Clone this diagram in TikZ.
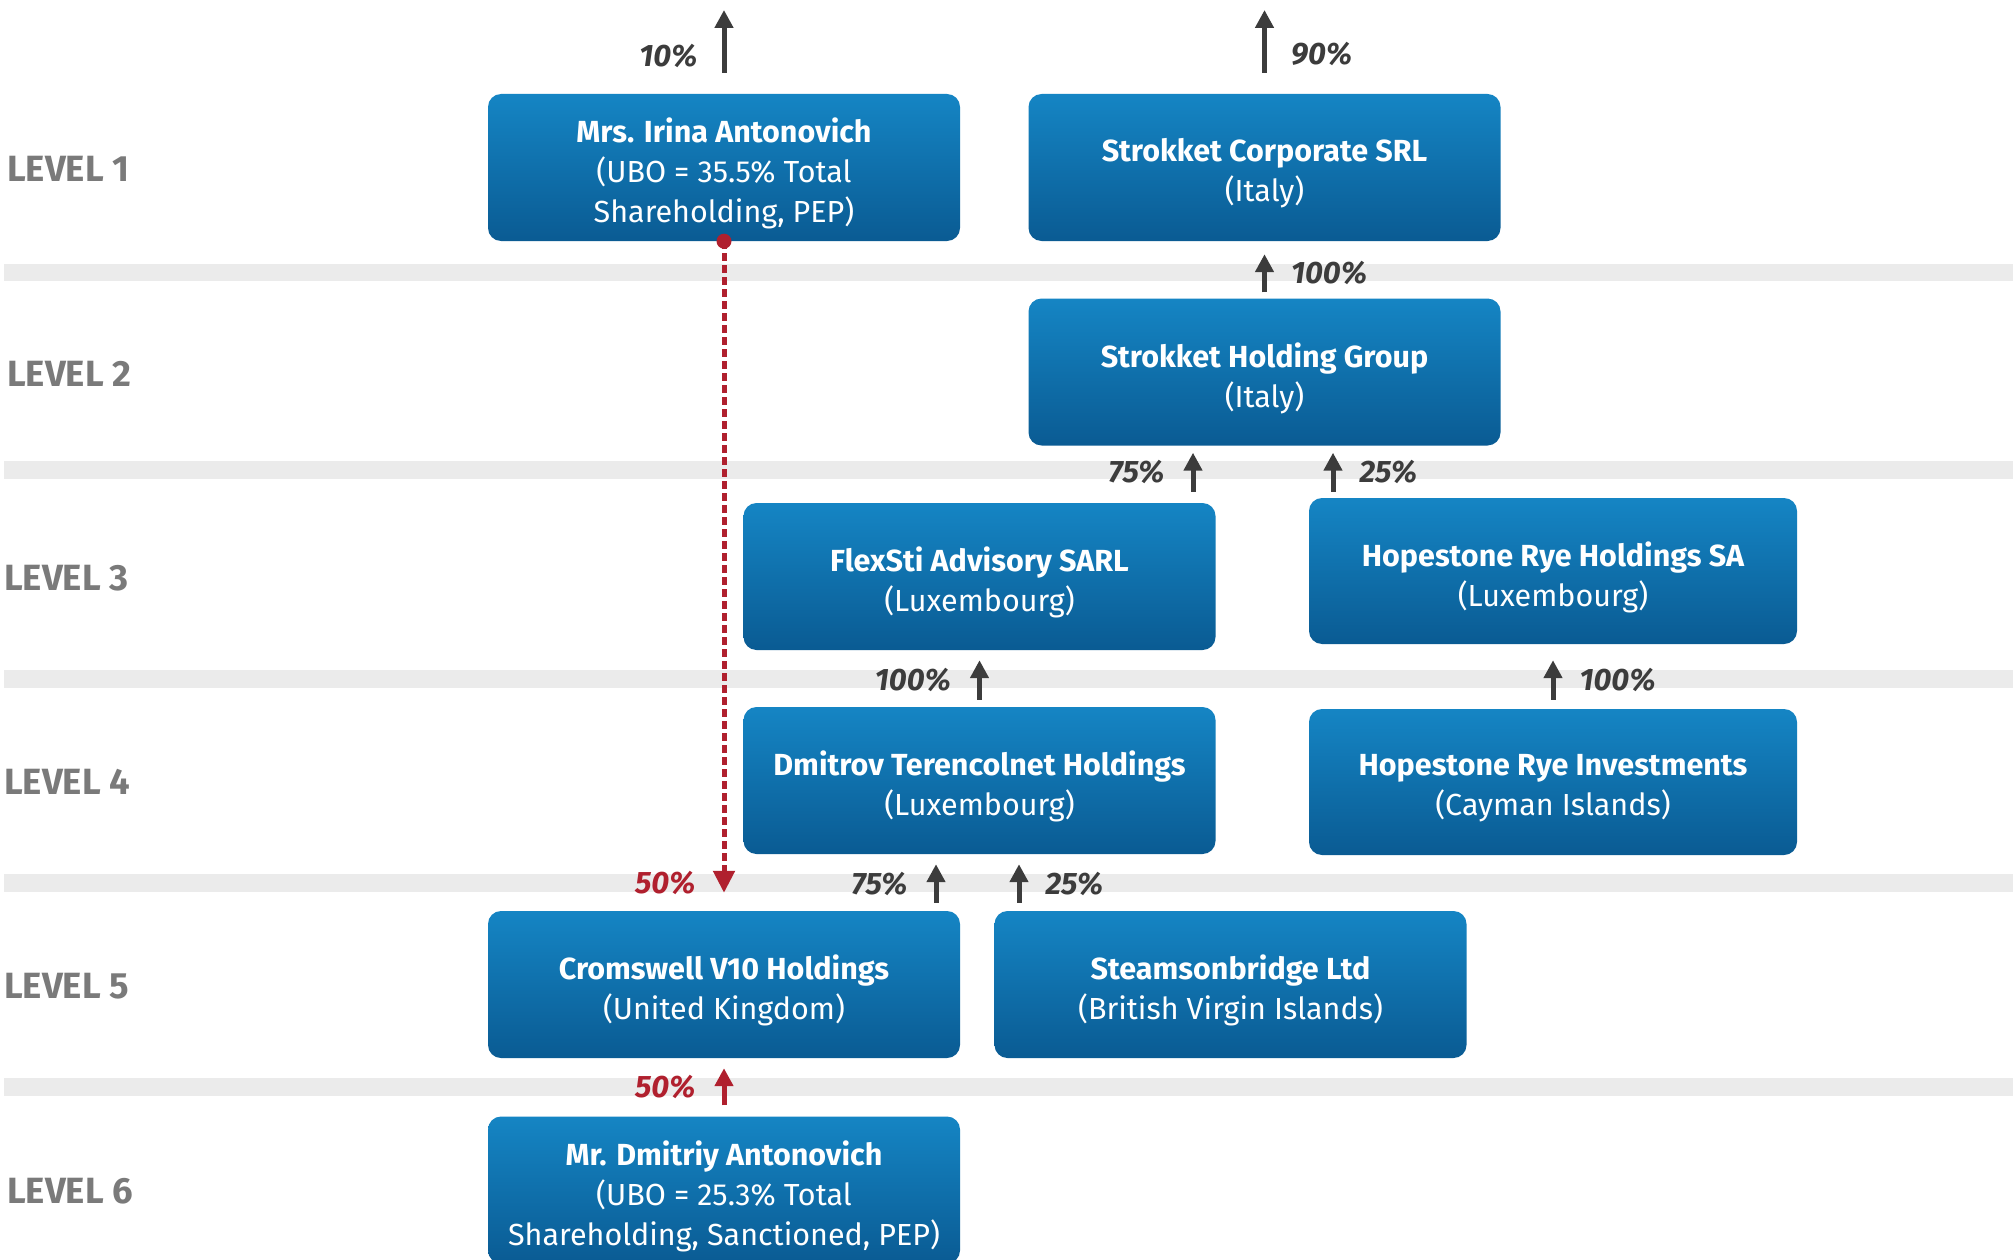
\documentclass[tikz,border=0pt]{standalone}
\usepackage{fontspec}
\setmainfont{Fira Sans}
\usetikzlibrary{arrows.meta}
\definecolor{boxtop}{HTML}{1585C4}
\definecolor{boxbot}{HTML}{0A5B93}
\definecolor{lvl}{HTML}{7A7A7A}
\definecolor{bandcol}{HTML}{EBEBEB}
\definecolor{arrgray}{HTML}{3C3C3C}
\definecolor{redown}{HTML}{B0202E}
\begin{document}
\begin{tikzpicture}[x=1pt,y=-1pt,
  entity/.style={rounded corners=13pt, top color=boxtop, bottom color=boxbot, draw=none,
    minimum width=472pt, minimum height=147pt, inner sep=0pt},
  widebox/.style={entity, minimum width=488pt, minimum height=146pt},
  boxtext/.style={text=white, align=center, inner sep=0pt, yshift=-6pt,
    font=\fontsize{30.5}{40}\selectfont},
  lvllabel/.style={anchor=west, text=lvl, font=\fontsize{36.5}{40}\selectfont\bfseries, inner sep=0pt},
  bandstrip/.style={fill=bandcol, draw=none},
  own/.style={draw=arrgray, line width=5pt, -{Triangle[length=18pt,width=18pt]}},
  ownred/.style={own, draw=redown},
  dotted link/.style={draw=redown, line width=5pt, dash pattern=on 8pt off 4pt, -{Triangle[length=22pt,width=21pt]}},
  pct/.style={text=arrgray, font=\fontsize{31}{34}\selectfont\bfseries\itshape, inner sep=0pt},
  pctred/.style={pct, text=redown},
]
\useasboundingbox (0,0) rectangle (2013,1260);
\fill[white] (0,0) rectangle (2013,1260);

% bands
\fill[bandstrip] (4,264) rectangle (2013,281);
\fill[bandstrip] (4,461) rectangle (2013,479);
\fill[bandstrip] (4,670) rectangle (2013,688);
\fill[bandstrip] (4,874) rectangle (2013,892);
\fill[bandstrip] (4,1078) rectangle (2013,1096);

% level labels
\node[lvllabel] (l1) at (7,169) {LEVEL 1};
\node[lvllabel] (l2) at (7,374) {LEVEL 2};
\node[lvllabel] (l3) at (4,578) {LEVEL 3};
\node[lvllabel] (l4) at (4,782) {LEVEL 4};
\node[lvllabel] (l5) at (4,986) {LEVEL 5};
\node[lvllabel] (l6) at (7,1191) {LEVEL 6};

% boxes
\node[entity, label={[boxtext]center:{{\bfseries Mrs. Irina Antonovich}\\(UBO = 35.5\% Total\\Shareholding, PEP)}}] (irina) at (724,167.5) {};
\node[entity, label={[boxtext]center:{{\bfseries Strokket Corporate SRL}\\(Italy)}}] (sc) at (1264.5,167.5) {};
\node[entity, label={[boxtext]center:{{\bfseries Strokket Holding Group}\\(Italy)}}] (sh) at (1264.5,372) {};
\node[entity, label={[boxtext]center:{{\bfseries FlexSti Advisory SARL}\\(Luxembourg)}}] (flex) at (979.5,576.5) {};
\node[widebox, label={[boxtext]center:{{\bfseries Hopestone Rye Holdings SA}\\(Luxembourg)}}] (hrh) at (1553,571) {};
\node[entity, label={[boxtext]center:{{\bfseries Dmitrov Terencolnet Holdings}\\(Luxembourg)}}] (dmitrov) at (979.5,780.5) {};
\node[widebox, label={[boxtext]center:{{\bfseries Hopestone Rye Investments}\\(Cayman Islands)}}] (hri) at (1553,782) {};
\node[entity, label={[boxtext]center:{{\bfseries Cromswell V10 Holdings}\\(United Kingdom)}}] (crom) at (724,984.5) {};
\node[entity, label={[boxtext]center:{{\bfseries Steamsonbridge Ltd}\\(British Virgin Islands)}}] (steam) at (1230.5,984.5) {};
\node[entity, label={[boxtext]center:{{\bfseries Mr. Dmitriy Antonovich}\\(UBO = 25.3\% Total\\Shareholding, Sanctioned, PEP)}}] (dmitriy) at (724,1190) {};

% free ends
\coordinate (out1) at (724,10);
\coordinate (out2) at (1264.5,10);

% arrows
\draw[own] ([yshift=21pt]irina.north) -- node[pct, pos=0.27, left=24pt] {10\%} (out1);
\draw[own] ([yshift=21pt]sc.north) -- node[pct, pos=0.3, right=24pt] {90\%} (out2);
\draw[own] ([yshift=6pt]sh.north) -- node[pct, right=24pt] {100\%} ([yshift=-13pt]sc.south);
\draw[own] ([xshift=213.5pt,yshift=11pt]flex.north) -- node[pct, left=26pt] {75\%} ([xshift=-71.5pt,yshift=-7pt]sh.south);
\draw[own] ([xshift=-220pt,yshift=6pt]hrh.north) -- node[pct, right=24pt] {25\%} ([xshift=68.5pt,yshift=-7pt]sh.south);
\draw[own] ([yshift=7pt]dmitrov.north) -- node[pct, left=26pt] {100\%} ([yshift=-10pt]flex.south);
\draw[own] ([yshift=9pt]hri.north) -- node[pct, right=24pt] {100\%} ([yshift=-16pt]hrh.south);
\draw[own] ([xshift=212pt,yshift=8pt]crom.north) -- node[pct, left=26pt] {75\%} ([xshift=-43.5pt,yshift=-10pt]dmitrov.south);
\draw[own] ([xshift=-211.5pt,yshift=8pt]steam.north) -- node[pct, right=24pt] {25\%} ([xshift=39.5pt,yshift=-10pt]dmitrov.south);
\draw[ownred] ([yshift=11pt]dmitriy.north) -- node[pctred, left=26pt] {50\%} ([yshift=-10pt]crom.south);

% red dotted link
\fill[redown] (irina.south) circle (7.5pt);
\draw[dotted link] (irina.south) -- node[pctred, pos=0.985, left=26pt] {50\%} ([yshift=18pt]crom.north);
\end{tikzpicture}
\end{document}
